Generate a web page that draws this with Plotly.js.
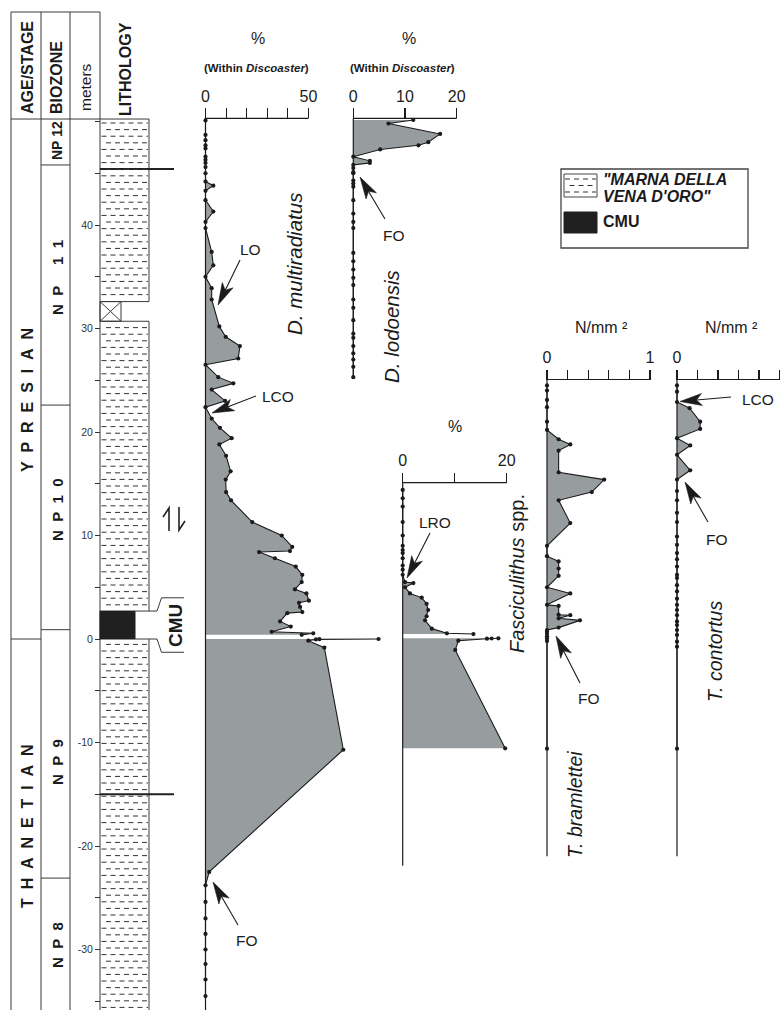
<!DOCTYPE html>
<html><head><meta charset="utf-8">
<script src="https://cdn.plot.ly/plotly-3.0.1.min.js"></script>
<style>html,body{margin:0;padding:0;background:#fff}#chart{width:782px;height:1010px}</style>
</head><body><div id="chart"></div>
<script>
// ---------------- DATA ----------------
// D. multiradiatus (% within Discoaster), depth in metres
const multiUpperDepth = [50.1,48.7,48.2,47.7,47.4,46.6,46.3,46.0,45.6,45.0,44.2,43.8,43.3,42.4,41.3,40.3,39.7,37.4,36.1,35.0,33.9,32.8,30.2,29.2,28.3,27.1,26.5,25.3,24.7,24.1,23.0,22.4,21.3,20.4,19.4,18.8,17.7,16.2,15.4,14.2,13.4,11.3,10.0,8.9,8.5,8.4,7.8,7.0,6.2,5.5,4.8,4.4,3.7,3.5,3.1,2.6,2.5,1.7,1.2,0.7,0.55,0.4];
const multiUpperValue = [0,0,0,0,0,0,0,0,0,0,0,3.8,0,0,3.8,0,0,3.0,3.8,0,3.0,3.0,6.7,9.8,16.7,15.9,0,6.2,13.5,3.0,9.5,0,3.0,7.0,12.7,6.7,10.0,12.2,9.8,10.0,12.4,22.7,37.0,42.1,41.0,26.0,33.7,43.8,47.0,46.7,43.4,49.0,50.2,45.4,45.9,47.0,39.7,36.2,41.4,32.1,52.3,46.7];
const multiLowerDepth = [0.0,-0.02,-0.04,-0.16,-0.84,-10.7,-22.5,-23.8,-25.4,-27.0,-28.5,-30.0,-31.4,-32.9,-34.5];
const multiLowerValue = [84,55.3,53.6,49.9,57.7,66.9,1.8,0,0,0,0,0,0,0,0];
// D. lodoensis (% within Discoaster)
const lodoDepth = [50.15,49.8,48.8,48.0,47.7,47.3,46.6,46.2,46.0,45.8,45.5,45.1,45.0,44.3,44.0,43.7,42.4,41.1,40.3,39.7,37.3,36.5,35.7,34.9,34.2,32.8,32.0,30.8,29.5,29.1,28.3,27.6,27.0,26.3,25.3];
const lodoValue = [11.6,6.8,16.8,14.5,12.6,5.2,0,3.2,3.2,0,0,0,0,0,0,0,0,0,0,0,0,0,0,0,0,0,0,0,0,0,0,0,0,0,0];
// Fasciculithus spp. (%)
const fascUpperDepth = [14.4,13.6,12.8,11.3,10.0,9.0,8.6,8.3,7.8,7.1,6.7,6.2,5.5,5.4,5.0,4.4,4.0,3.4,2.8,2.2,1.8,1.0,0.55,0.48];
const fascUpperValue = [0,0,0,0,0,0,0,0,0,0,0,0,0.45,2.05,0.45,1.4,3.65,4.6,4.9,4.6,4.3,5.6,8.5,13.6];
const fascLowerDepth = [0.07,0.05,0.03,-0.16,-1.06,-10.56];
const fascLowerValue = [18.4,17.1,16.2,10.7,10.1,19.7];
// T. bramlettei (N/mm2)
const bramDepth = [24.5,24.0,23.1,22.4,21.0,20.2,19.3,18.8,18.2,16.1,15.4,14.2,13.4,11.2,9.0,8.0,7.5,6.8,6.1,5.0,4.4,3.3,3.2,2.35,2.3,2.0,1.8,1.1,0.87,0.69,0.5,0.26,0.05,-0.2,-10.6];
const bramValue = [0,0,0,0,0,0,0.113,0.226,0.113,0.113,0.555,0.435,0.113,0.226,0,0,0.113,0.113,0.113,0,0.226,0,0.113,0.113,0.226,0.113,0.32,0.113,0,0,0,0,0,0,0];
// T. contortus (N/mm2)
const contDepth = [24.5,23.9,22.9,22.3,21.0,20.3,19.4,18.7,17.8,16.3,15.4,14.3,13.4,12.2,11.3,9.9,9.1,8.3,7.7,7.0,6.2,5.9,5.2,4.6,3.9,3.3,2.8,2.3,1.7,1.35,0.87,0.39,-0.26,-0.74,-10.6];
const contValue = [0,0,0,0.123,0.226,0.226,0,0.129,0,0.129,0,0,0,0,0,0,0,0,0,0,0,0,0,0,0,0,0,0,0,0,0,0,0,0,0];
// Stratigraphy (depth in m)
const sectionTop = 50.24;
const stageNames = ['YPRESIAN','THANETIAN'];
const stageBase = [0];
const zoneNames = ['NP12','NP11','NP10','NP9','NP8'];
const zoneBases = [45.8, 22.6, 0.9, -23.1];
const gapInterval = [32.6, 30.7];
const cmuInterval = [2.7, 0];
const markerLevels = [45.4, -15];
const metreLabelTicks = [-30,-20,-10,0,10,20,30,40];
const metreMinorTicks = [-35,-25,-15,-5,5,15,25,35,45,50];

// ---------------- GEOMETRY ----------------
const W = 782, H = 1010, Y0 = 639, PPM = 10.35;
const mTop = Y0 / PPM, mBot = (Y0 - H) / PPM;
const px = x => x / W, py = y => 1 - y / H;
const INK = '#1b1b1b', LINE = '#3a3a3a', GRAY = '#979d9f';
const FONT = '"Liberation Sans", Arial, sans-serif';
const NB = '\u00a0';
const sp = (s, n) => s.split('').join(NB.repeat(n));

const shapes = [], annotations = [];
function Lp(x0, y0, x1, y1, o = {}) { // pixel coords
  shapes.push({type:'line', xref:'paper', yref:'paper', x0:px(x0), y0:py(y0), x1:px(x1), y1:py(y1),
    line:{color:o.color||LINE, width:o.width||1, dash:o.dash||'solid'}});
}
function Ld(x0, m0, x1, m1, o = {}) { // x pixel, y depth
  shapes.push({type:'line', xref:'paper', yref:'y', x0:px(x0), y0:m0, x1:px(x1), y1:m1,
    line:{color:o.color||LINE, width:o.width||1}});
}
function txt(text, x, y, o = {}) {
  annotations.push({text, xref:'paper', yref:'paper', x:px(x), y:py(y), showarrow:false,
    xanchor:o.xanchor||'center', yanchor:'middle', textangle:o.angle||0, borderpad:0,
    font:{family:FONT, size:o.size||15, color:o.color||INK, weight:o.bold?'bold':'normal', style:o.italic?'italic':'normal'}});
}
function pathP(pts, o = {}) {
  shapes.push({type:'path', xref:'paper', yref:'paper', line:{color:o.color||INK, width:o.width||1},
    fillcolor:o.fill, path:'M'+pts.map(p=>px(p[0])+','+py(p[1])).join(' L')+(o.close?' Z':'')});
}
function arrow(tip, tail, L = 22, w = 12) {
  const dx = tail[0]-tip[0], dy = tail[1]-tip[1], len = Math.hypot(dx, dy);
  const ux = dx/len, uy = dy/len, nx = -uy, ny = ux;
  const bx = tip[0]+ux*L, by = tip[1]+uy*L, cx = tip[0]+ux*L*0.75, cy = tip[1]+uy*L*0.75;
  pathP([[tip[0],tip[1]],[bx+nx*w/2,by+ny*w/2],[cx,cy],[bx-nx*w/2,by-ny*w/2]], {fill:INK, width:0.6, close:true});
  Lp(cx, cy, tail[0], tail[1], {color:INK, width:1.1});
}

// ---------------- LEFT COLUMNS ----------------
[11,41,70,100].forEach(x => Lp(x, 12, x, H));
Lp(11, 12, 100, 12);
Ld(11, sectionTop, 149, sectionTop);
zoneBases.forEach(m => Ld(41, m, 70, m));
stageBase.forEach(m => Ld(11, m, 41, m));
// lithology outline
Ld(149, sectionTop, 149, gapInterval[0]);
Ld(149, gapInterval[1], 149, cmuInterval[0]);
Ld(149, cmuInterval[1], 149, mBot);
Ld(100, gapInterval[0], 149, gapInterval[0]);
Ld(100, gapInterval[1], 149, gapInterval[1]);
shapes.push({type:'rect', xref:'paper', yref:'y', x0:px(100), x1:px(121), y0:gapInterval[1], y1:gapInterval[0], line:{color:LINE,width:1}});
Ld(100, gapInterval[0], 121, gapInterval[1]);
Ld(100, gapInterval[1], 121, gapInterval[0]);
shapes.push({type:'rect', xref:'paper', yref:'y', x0:px(100), x1:px(135), y0:cmuInterval[1], y1:cmuInterval[0], fillcolor:'#202020', line:{color:'#202020',width:1}});
// CMU bracket
const br = 1.28;
shapes.push({type:'path', xref:'paper', yref:'y', line:{color:LINE,width:1},
  path:`M${px(135)},${cmuInterval[0]} L${px(157)},${cmuInterval[0]} L${px(161.5)},${cmuInterval[0]+br} L${px(184)},${cmuInterval[0]+br}`});
shapes.push({type:'path', xref:'paper', yref:'y', line:{color:LINE,width:1},
  path:`M${px(135)},${cmuInterval[1]} L${px(157)},${cmuInterval[1]} L${px(161.5)},${cmuInterval[1]-br} L${px(184)},${cmuInterval[1]-br}`});
markerLevels.forEach(m => Ld(100, m, 174, m, {color:'#222', width:2}));
// lithology dash pattern
(function(){
  const yTop = Y0 - sectionTop*PPM;
  const skip = [[Y0-gapInterval[0]*PPM-2.5, Y0-gapInterval[1]*PPM+2.5],[Y0-cmuInterval[0]*PPM-2.5, Y0-cmuInterval[1]*PPM+2.5]];
  let i = 0;
  for (let y = yTop + 4; y < H; y += 6.6, i++) {
    if (skip.some(s => y > s[0] && y < s[1])) continue;
    const off = (i % 2) ? 4.5 : 0;
    Lp(101.5 + off, y, 148, y, {color:'#333', width:1, dash:'5px,4px'});
  }
})();
// fault symbol (half arrows)
pathP([[163,517],[169,508],[169,531]], {color:'#222', width:1.6});
pathP([[179,507],[179,530],[185,521]], {color:'#222', width:1.6});

// header labels
txt('AGE/STAGE', 27, 67, {angle:-90, size:16, bold:true});
txt('BIOZONE', 57, 78, {angle:-90, size:16, bold:true});
txt('meters', 86, 87, {angle:-90, size:15.5});
txt('LITHOLOGY', 125, 69, {angle:-90, size:16, bold:true});
// stage & zone labels
txt(sp(stageNames[0],2), 27, 400, {angle:-90, size:16, bold:true});
txt(sp(stageNames[1],2), 27, 826, {angle:-90, size:16, bold:true});
const zoneText = ['NP'+NB+'12', 'N'+NB+NB+'P'+NB.repeat(5)+'1'+NB+NB+'1', sp('NP10',2), sp('NP9',2), sp('NP8',2)];
const zoneY = [141, 278, 510, 762, 945];
zoneText.forEach((t,k) => txt(t, 57, zoneY[k], {angle:-90, size:k===0?14:15, bold:true}));
txt('CMU', 175, 626, {angle:-90, size:19, bold:true});

// ---------------- PANELS ----------------
const panels = [
  {id:'x',  px0:205.5, ppu:103/50,  lo:-3,    hi:92,   axisY:118.3, max:50, tv:[0,50], tt:['0','50'], mv:[10,20,30,40], bot:mBot},
  {id:'x2', px0:353.3, ppu:103.4/20,lo:-1,    hi:21,   axisY:118.3, max:20, tv:[0,10,20], tt:['0','10','20'], mv:[], bot:25.2},
  {id:'x3', px0:402.7, ppu:104/20,  lo:-1,    hi:22,   axisY:482.7, max:20, tv:[0,20], tt:['0','20'], mv:[10], bot:-21.9},
  {id:'x4', px0:547,   ppu:103,     lo:-0.05, hi:1.05, axisY:379.5, max:1,  tv:[0,1], tt:['0','1'], mv:[0.2,0.4,0.6,0.8], bot:-21.0},
  {id:'x5', px0:677,   ppu:102.5,   lo:-0.05, hi:1.0,  axisY:379.5, max:1,  tv:[0,1], tt:['0','1'], mv:[0.2,0.4,0.6,0.8], bot:-21.0}
];
const layout = {
  width:W, height:H, margin:{l:0,r:0,t:0,b:0}, autosize:false, showlegend:false,
  paper_bgcolor:'#fff', plot_bgcolor:'rgba(0,0,0,0)', font:{family:FONT, color:INK},
  yaxis:{domain:[0,1], range:[mBot, mTop], anchor:'free', position:px(100), side:'left',
    showgrid:false, zeroline:false, showline:false, ticks:'outside', ticklen:5, tickwidth:1, tickcolor:'#333',
    tickmode:'array', tickvals:metreLabelTicks, ticktext:metreLabelTicks.map(String),
    minor:{tickmode:'array', tickvals:metreMinorTicks, ticks:'outside', ticklen:5, tickwidth:1, tickcolor:'#333', showgrid:false},
    tickfont:{family:FONT, size:10.5, color:'#333'}, fixedrange:true}
};
panels.forEach(p => {
  const key = 'xaxis' + p.id.slice(1);
  const ax = {domain:[(p.px0+p.lo*p.ppu)/W, (p.px0+p.hi*p.ppu)/W], range:[p.lo, p.hi],
    anchor:'free', position:py(p.axisY), side:'top', showgrid:false, zeroline:false, showline:false,
    ticks:'outside', ticklen:10, tickwidth:1.2, tickcolor:INK, tickmode:'array', tickvals:p.tv, ticktext:p.tt,
    tickfont:{family:FONT, size:16, color:INK}, fixedrange:true};
  if (p.mv.length) ax.minor = {tickmode:'array', tickvals:p.mv, ticks:'outside', ticklen:10, tickwidth:1.2, tickcolor:INK, showgrid:false};
  layout[key] = ax;
  shapes.push({type:'line', xref:p.id, yref:'paper', x0:0, x1:p.max, y0:py(p.axisY), y1:py(p.axisY), line:{color:INK,width:1.2}});
  shapes.push({type:'line', xref:p.id, yref:'y', x0:0, x1:0, y0:(Y0-p.axisY)/PPM, y1:p.bot, line:{color:INK,width:1.2}});
});

function area(xs, ys, axis) {
  return {type:'scatter', mode:'lines+markers', x:xs, y:ys, xaxis:axis, yaxis:'y', fill:'tozerox',
    fillcolor:GRAY, line:{color:INK, width:1.1}, marker:{color:INK, size:4.2}, cliponaxis:false, hoverinfo:'skip'};
}
const data = [
  area(multiUpperValue, multiUpperDepth, 'x'),
  area(multiLowerValue, multiLowerDepth, 'x'),
  area(lodoValue, lodoDepth, 'x2'),
  area(fascUpperValue, fascUpperDepth, 'x3'),
  area(fascLowerValue, fascLowerDepth, 'x3'),
  area(bramValue, bramDepth, 'x4'),
  area(contValue, contDepth, 'x5')
];

// panel titles
txt('%', 258, 38, {size:16});
txt('(Within <i>Discoaster</i>)', 256, 68, {size:11.5, bold:true});
txt('%', 409, 38, {size:16});
txt('(Within <i>Discoaster</i>)', 402, 68, {size:11.5, bold:true});
txt('%', 455, 427, {size:16});
txt('N/mm \u00b2', 601, 327, {size:16});
txt('N/mm \u00b2', 731, 327, {size:16});
// species names
txt('D. multiradiatus', 294, 264, {angle:-90, size:20.5, italic:true});
txt('D. lodoensis', 391, 327, {angle:-90, size:20.5, italic:true});
txt('<i>Fasciculithus</i> spp.', 517, 574, {angle:-90, size:20});
txt('T. bramlettei', 575, 805, {angle:-90, size:19.5, italic:true});
txt('T. contortus', 715, 652, {angle:-90, size:19.5, italic:true});
// event arrows
arrow([218,305],[240,260]); txt('LO', 250, 249, {size:15.5});
arrow([212,413],[256,396]); txt('LCO', 278, 396, {size:15.5});
arrow([213,882],[238,925]); txt('FO', 247, 940, {size:15.5});
arrow([360,177],[385,219]); txt('FO', 394, 236, {size:15.5});
arrow([407,578],[430,533]); txt('LRO', 435, 522, {size:15.5});
arrow([556,636],[580,683]); txt('FO', 589, 698, {size:15.5});
arrow([680,401.5],[731,397]); txt('LCO', 758, 399, {size:15.5});
arrow([685,482],[708,522]); txt('FO', 717, 539, {size:15.5});

// legend
shapes.push({type:'rect', xref:'paper', yref:'paper', x0:px(561), x1:px(748), y0:py(169), y1:py(248), line:{color:'#444',width:1.3}});
shapes.push({type:'rect', xref:'paper', yref:'paper', x0:px(564), x1:px(597), y0:py(174), y1:py(197), line:{color:'#444',width:1}});
[179, 185.5, 192].forEach((y,k) => Lp(565 + (k%2?4.5:0), y, 596, y, {color:'#333', width:1, dash:'5px,4px'}));
shapes.push({type:'rect', xref:'paper', yref:'paper', x0:px(564), x1:px(597), y0:py(212), y1:py(233), fillcolor:'#202020', line:{color:'#202020',width:1}});
txt('"MARNA DELLA', 602, 180, {size:16, xanchor:'left', bold:true, italic:true});
txt('VENA D\'ORO"', 602, 197, {size:16, xanchor:'left', bold:true, italic:true});
txt('CMU', 602, 222, {size:16, xanchor:'left', bold:true});

layout.shapes = shapes;
layout.annotations = annotations;
Plotly.newPlot('chart', data, layout, {staticPlot:true, displayModeBar:false});
</script></body></html>
